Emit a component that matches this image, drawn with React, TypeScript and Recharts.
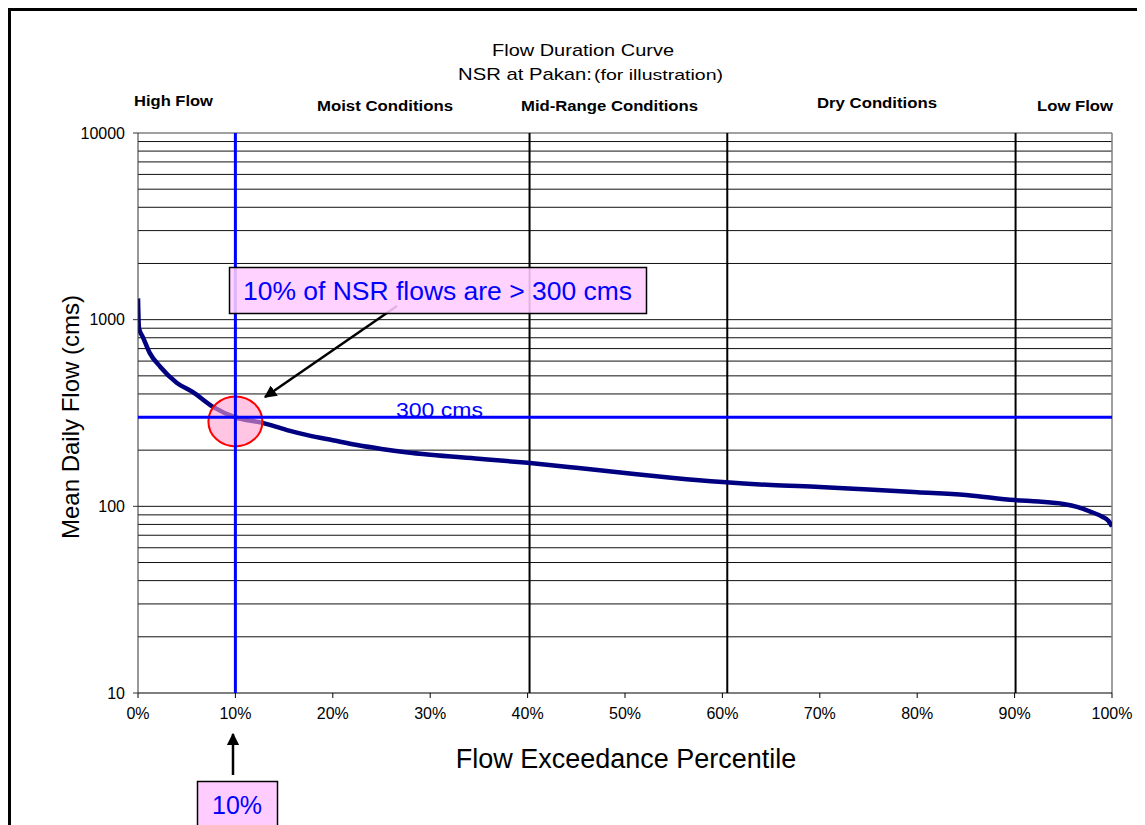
import React from 'react';
import {
  ComposedChart,
  Line,
  XAxis,
  YAxis,
  ReferenceLine,
  ReferenceDot,
} from 'recharts';

// exceedance percentile (%) and mean daily flow (cms)
const pct = [0, 0.1, 0.5, 1.2, 2.3, 4, 5.6, 7.7, 10, 12.8, 15.3, 17.5, 20, 22.5, 25, 27.5, 30, 35, 40, 45, 50, 55, 60, 65, 70, 75, 80, 85, 90, 92.5, 95, 96.5, 97.7, 99, 99.6, 100];
const flow = [1300, 900, 807, 664, 558, 458, 410, 341, 300, 280, 256, 240, 226, 213, 203, 195, 189, 180, 171, 161, 151, 142, 135, 130, 127, 123, 119, 115, 108, 106, 103, 99, 94, 88, 84, 78];

const xTicks = [0, 10, 20, 30, 40, 50, 60, 70, 80, 90, 100];
const yTicks = [10, 100, 1000, 10000];
const gridValues = [
  20, 30, 40, 50, 60, 70, 80, 90, 100,
  200, 300, 400, 500, 600, 700, 800, 900, 1000,
  2000, 3000, 4000, 5000, 6000, 7000, 8000, 9000,
];
const dividers = [40.2, 60.5, 90.1];
const markPct = 10;
const markFlow = 300;

const data = pct.map((p, i) => ({ pct: p, flow: flow[i] }));

const FONT = 'Arial, "Liberation Sans", sans-serif';
const W = 1137;
const H = 817;

const Overlay = () => (
  <svg
    width={W}
    height={H}
    style={{ position: 'absolute', left: 0, top: 0, pointerEvents: 'none' }}
    fontFamily={FONT}
  >
    <defs>
      <marker id="head" viewBox="0 0 10 10" refX="9" refY="5" markerWidth="5" markerHeight="5" orient="auto">
        <path d="M0,0 L10,5 L0,10 z" fill="#000" />
      </marker>
    </defs>
    <rect x={1.5} y={1.5} width={3000} height={3000} fill="none" stroke="#000" strokeWidth={3} />

    <text x={484} y={48} fontSize={17} textLength={182} lengthAdjust="spacingAndGlyphs">Flow Duration Curve</text>
    <text x={450} y={72} fontSize={17} textLength={134} lengthAdjust="spacingAndGlyphs">NSR at Pakan:</text>
    <text x={586} y={72} fontSize={15} textLength={129} lengthAdjust="spacingAndGlyphs">(for illustration)</text>

    <g fontSize={14} fontWeight="bold">
      <text x={126} y={98} textLength={79} lengthAdjust="spacingAndGlyphs">High Flow</text>
      <text x={309} y={103} textLength={136} lengthAdjust="spacingAndGlyphs">Moist Conditions</text>
      <text x={513} y={103} textLength={177} lengthAdjust="spacingAndGlyphs">Mid-Range Conditions</text>
      <text x={809} y={100} textLength={120} lengthAdjust="spacingAndGlyphs">Dry Conditions</text>
      <text x={1029} y={103} textLength={76} lengthAdjust="spacingAndGlyphs">Low Flow</text>
    </g>

    <text
      x={0}
      y={0}
      fontSize={24}
      textAnchor="middle"
      dominantBaseline="central"
      transform="translate(62,409) rotate(-90)"
    >
      Mean Daily Flow (cms)
    </text>
    <text x={618} y={760} fontSize={27} textAnchor="middle">Flow Exceedance Percentile</text>

    <text x={388} y={409} fontSize={21} fill="#0000ff" textLength={87} lengthAdjust="spacingAndGlyphs">300 cms</text>

    <line x1={389} y1={298} x2={257} y2={389} stroke="#000" strokeWidth={2.5} markerEnd="url(#head)" />
    <rect x={221.5} y={259.5} width={417} height={46} fill="#ffccff" fillOpacity={0.88} stroke="#000" strokeWidth={1.5} />
    <text x={235} y={292} fontSize={26} fill="#0000ff" textLength={389} lengthAdjust="spacingAndGlyphs">
      10% of NSR flows are &gt; 300 cms
    </text>

    <line x1={225} y1={767} x2={225} y2={726} stroke="#000" strokeWidth={2.5} markerEnd="url(#head)" />
    <rect x={189.5} y={773.5} width={80} height={60} fill="#ffccff" stroke="#000" strokeWidth={1.5} />
    <text x={204} y={806} fontSize={25} fill="#0000ff" textLength={50} lengthAdjust="spacingAndGlyphs">10%</text>
  </svg>
);

export default function App() {
  return (
    <div style={{ position: 'relative', width: W, height: H, background: '#fff' }}>
      <ComposedChart
        width={W}
        height={H}
        data={data}
        margin={{ top: 125, right: 33, bottom: 102, left: 0 }}
        style={{ position: 'absolute', left: 0, top: 0 }}
      >
        {gridValues.map((v) => (
          <ReferenceLine key={`g${v}`} y={v} stroke="#111" strokeWidth={1} zIndex={50} />
        ))}
        <ReferenceLine y={10000} stroke="#808080" strokeWidth={1.5} zIndex={50} />
        <ReferenceLine x={100} stroke="#808080" strokeWidth={1.5} zIndex={50} />
        {dividers.map((v) => (
          <ReferenceLine key={`d${v}`} x={v} stroke="#000" strokeWidth={2} zIndex={60} />
        ))}
        <XAxis
          type="number"
          dataKey="pct"
          domain={[0, 100]}
          ticks={xTicks}
          tickFormatter={(v: number) => `${v}%`}
          height={30}
          tickSize={5}
          tickMargin={10}
          stroke="#000"
          tick={{ fill: '#000', fontSize: 16, fontFamily: FONT }}
          allowDataOverflow
        />
        <YAxis
          scale="log"
          domain={[10, 10000]}
          ticks={yTicks}
          width={130}
          tickSize={5}
          tickMargin={8}
          stroke="#333"
          tick={{ fill: '#000', fontSize: 16, fontFamily: FONT }}
          allowDataOverflow
        />
        <Line
          type="monotone"
          dataKey="flow"
          stroke="#000080"
          strokeWidth={4.5}
          dot={false}
          isAnimationActive={false}
          zIndex={400}
        />
        <ReferenceDot
          x={markPct}
          y={285}
          zIndex={450}
          shape={(p: { cx?: number; cy?: number }) => (
            <ellipse
              cx={p.cx}
              cy={p.cy}
              rx={27}
              ry={25}
              fill="#ff9fd0"
              fillOpacity={0.6}
              stroke="#ff0000"
              strokeWidth={2}
            />
          )}
        />
        <ReferenceLine x={markPct} stroke="#0000ff" strokeWidth={3} zIndex={500} />
        <ReferenceLine y={markFlow} stroke="#0000ff" strokeWidth={3} zIndex={500} />
      </ComposedChart>
      <Overlay />
    </div>
  );
}
